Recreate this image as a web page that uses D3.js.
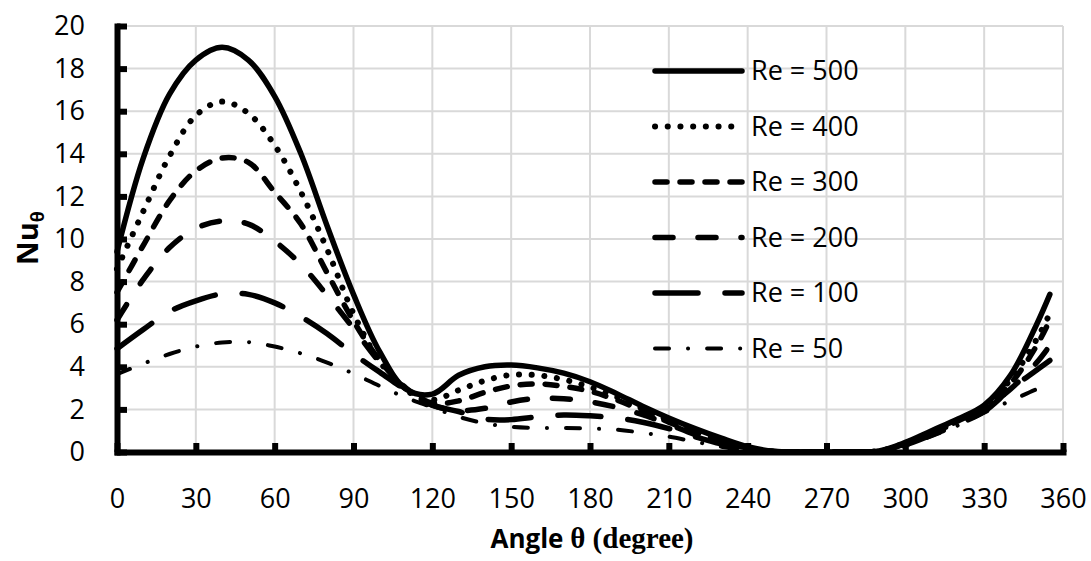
<!DOCTYPE html>
<html>
<head>
<meta charset="utf-8">
<script src="https://cdn.jsdelivr.net/npm/d3@7"></script>
<style>
  body { margin: 0; background: #fff; }
  svg { display: block; }
</style>
</head>
<body>
<svg></svg>
<script>
const WIDTH = 1091;
const HEIGHT = 561;

// data
const angles = [0, 10, 20, 30, 40, 50, 60, 70, 80, 90, 100, 110, 120, 130, 140, 150, 160, 170, 180,
  190, 200, 210, 220, 230, 240, 250, 260, 270, 280, 290, 300, 310, 320, 330, 340, 350, 355];
const re500 = [9.4, 13.8, 16.8, 18.4, 19.0, 18.4, 16.7, 14.0, 10.6, 7.4, 4.7, 2.95, 2.72, 3.6, 4.0, 4.08, 3.95, 3.7, 3.3,
  2.75, 2.15, 1.6, 1.1, 0.65, 0.25, 0.03, 0, 0, 0, 0.05, 0.45, 1.0, 1.55, 2.2, 3.6, 6.0, 7.4];
const re400 = [8.6, 11.3, 13.9, 15.8, 16.45, 15.9, 14.4, 12.2, 9.5, 6.5, 4.25, 2.9, 2.45, 2.9, 3.35, 3.62, 3.6, 3.4, 3.05,
  2.6, 2.05, 1.5, 1.0, 0.55, 0.2, 0.02, 0, 0, 0, 0.05, 0.42, 0.95, 1.5, 2.15, 3.4, 5.3, 6.5];
const re300 = [7.5, 9.7, 11.8, 13.2, 13.8, 13.6, 12.2, 10.7, 8.4, 6.15, 4.3, 3.0, 2.3, 2.4, 2.8, 3.1, 3.2, 3.08, 2.85,
  2.45, 1.95, 1.4, 0.9, 0.5, 0.18, 0.02, 0, 0, 0, 0.04, 0.4, 0.9, 1.45, 2.1, 3.2, 5.0, 6.2];
const re200 = [6.2, 8.1, 9.6, 10.5, 10.85, 10.7, 9.9, 8.8, 7.35, 5.8, 4.2, 2.95, 2.2, 1.95, 2.05, 2.35, 2.52, 2.5, 2.35,
  2.1, 1.75, 1.3, 0.82, 0.45, 0.15, 0.02, 0, 0, 0, 0.03, 0.38, 0.88, 1.42, 2.05, 2.95, 4.2, 5.0];
const re100 = [4.85, 5.75, 6.6, 7.1, 7.42, 7.4, 7.0, 6.35, 5.55, 4.6, 3.75, 2.9, 2.2, 1.9, 1.55, 1.52, 1.65, 1.74, 1.7,
  1.6, 1.4, 1.1, 0.72, 0.38, 0.12, 0.01, 0, 0, 0, 0.03, 0.33, 0.8, 1.3, 1.9, 2.95, 3.85, 4.3];
const re50 = [3.65, 4.15, 4.6, 4.95, 5.14, 5.16, 4.95, 4.63, 4.2, 3.68, 3.1, 2.55, 2.1, 1.65, 1.35, 1.18, 1.13, 1.13, 1.1,
  1.05, 0.9, 0.72, 0.48, 0.25, 0.07, 0, 0, 0, 0, 0.02, 0.3, 0.75, 1.25, 1.85, 2.4, 2.95, 3.2];

const seriesNames = ['Re = 500', 'Re = 400', 'Re = 300', 'Re = 200', 'Re = 100', 'Re = 50'];
const seriesValues = [re500, re400, re300, re200, re100, re50];
const xTicks = [0, 30, 60, 90, 120, 150, 180, 210, 240, 270, 300, 330, 360];
const yTicks = [0, 2, 4, 6, 8, 10, 12, 14, 16, 18, 20];

// line styles per series
const STYLES = [
  { width: 5.5, dash: null },
  { width: 6, dash: '0.1 12.6' },
  { width: 5.5, dash: '12 13' },
  { width: 5.5, dash: '18 25' },
  { width: 5.5, dash: '43 27' },
  { width: 4, dash: '14 19 0.1 19' }
];

const PLOT = { left: 117, right: 1063, top: 26, bottom: 452 };
const FONT = '"Open Sans", sans-serif';

const svg = d3.select('svg').attr('width', WIDTH).attr('height', HEIGHT);

const x = d3.scaleLinear().domain([0, 360]).range([PLOT.left, PLOT.right]);
const y = d3.scaleLinear().domain([0, 20]).range([PLOT.bottom, PLOT.top]);

// grid
const grid = svg.append('g').attr('stroke', '#d9d9d9').attr('stroke-width', 2);
grid.selectAll('.vx')
  .data(xTicks.slice(1))
  .enter()
  .append('line')
  .attr('x1', (d) => x(d)).attr('x2', (d) => x(d))
  .attr('y1', y(0)).attr('y2', y(20));
grid.selectAll('.hy')
  .data(yTicks.slice(1))
  .enter()
  .append('line')
  .attr('x1', x(0)).attr('x2', x(360))
  .attr('y1', (d) => y(d)).attr('y2', (d) => y(d));

// series
const line = d3.line()
  .x((d) => x(d[0]))
  .y((d) => y(d[1]))
  .curve(d3.curveCatmullRom.alpha(0.5));

svg.append('g')
  .selectAll('path')
  .data(seriesValues)
  .enter()
  .append('path')
  .attr('d', (vals) => line(angles.map((a, i) => [a, vals[i]])))
  .attr('fill', 'none')
  .attr('stroke', '#000')
  .attr('stroke-width', (d, i) => STYLES[i].width)
  .attr('stroke-linecap', 'round')
  .attr('stroke-linejoin', 'round')
  .attr('stroke-dasharray', (d, i) => STYLES[i].dash);

// axes
const xAxisGroup = svg.append('g')
  .attr('transform', `translate(0, ${y(0)})`)
  .call(d3.axisBottom(x).tickValues(xTicks).tickSize(-9).tickSizeOuter(0));
const yAxisGroup = svg.append('g')
  .attr('transform', `translate(${x(0)}, 0)`)
  .call(d3.axisLeft(y).tickValues(yTicks).tickSize(-10).tickSizeOuter(0).tickPadding(32));

[xAxisGroup, yAxisGroup].forEach((g) => {
  g.select('.domain').attr('stroke', '#000').attr('stroke-width', 6).attr('stroke-linecap', 'square');
  g.selectAll('.tick line').attr('stroke', '#000').attr('stroke-width', 6);
  g.selectAll('.tick text').attr('fill', '#000').style('font-family', FONT).style('font-size', '27px');
});
xAxisGroup.selectAll('.tick text').attr('y', 56).attr('dy', 0);

// axis titles
const xTitle = svg.append('text')
  .attr('x', 592)
  .attr('y', 548)
  .attr('text-anchor', 'middle')
  .attr('fill', '#000')
  .style('font-weight', 'bold');
xTitle.append('tspan').style('font-family', FONT).style('font-size', '26px').text('Angle ');
xTitle.append('tspan').style('font-family', '"Liberation Serif", serif').style('font-size', '29px').text('θ (degree)');

const yTitle = svg.append('text')
  .attr('transform', 'translate(38, 238) rotate(-90)')
  .attr('text-anchor', 'middle')
  .attr('fill', '#000')
  .style('font-family', FONT)
  .style('font-weight', 'bold')
  .style('font-size', '29px');
yTitle.append('tspan').text('Nu');
yTitle.append('tspan').attr('dy', 6).style('font-size', '18px').text('θ');

// legend
const legend = svg.append('g');
const item = legend.selectAll('g')
  .data(seriesNames)
  .enter()
  .append('g')
  .attr('transform', (d, i) => `translate(655, ${71 + i * 55.5})`);
item.append('line')
  .attr('x1', 0).attr('x2', 87)
  .attr('stroke', '#000')
  .attr('stroke-width', (d, i) => STYLES[i].width)
  .attr('stroke-linecap', 'round')
  .attr('stroke-dasharray', (d, i) => STYLES[i].dash);
item.append('text')
  .attr('x', 96)
  .attr('dy', '0.35em')
  .attr('fill', '#000')
  .style('font-family', FONT)
  .style('font-size', '27px')
  .text((d) => d);
</script>
</body>
</html>
